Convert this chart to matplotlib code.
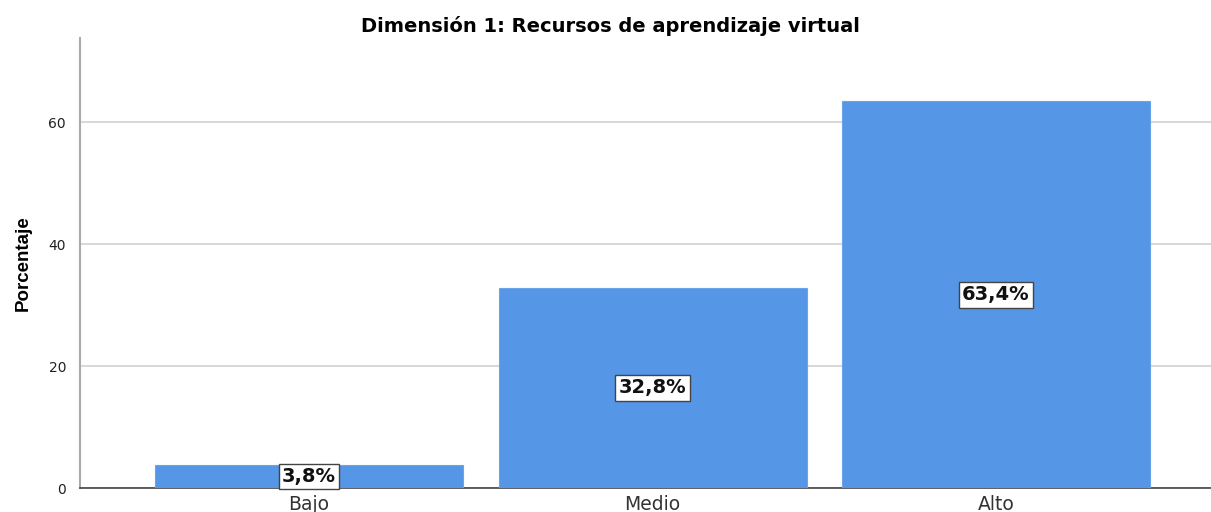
import matplotlib.pyplot as plt
import numpy as np

categories = ["Bajo", "Medio", "Alto"]
percentages = [3.8, 32.8, 63.4]
labels = ["3,8%", "32,8%", "63,4%"]
y_ticks = [0, 20, 40, 60]

plt.rcParams["font.family"] = ["DejaVu Sans"]

fig = plt.figure(figsize=(12.11, 5.12), dpi=100)
ax = fig.add_axes([80 / 1211, 1 - 488 / 512, 1 - 80 / 1211, 450 / 512])

x = np.arange(len(categories))
ax.bar(x, percentages, width=0.897, color="#5596e6", edgecolor="#6aa5ec",
       linewidth=0.8, zorder=3)

for xi, p, lab in zip(x, percentages, labels):
    ax.text(xi, p / 2, lab, ha="center", va="center", fontsize=14,
            fontweight="bold", color="#111111", zorder=5,
            bbox=dict(boxstyle="square,pad=0.17", facecolor="white",
                      edgecolor="#444444", linewidth=1.0))

ax.set_xlim(-0.667, 2.626)
ax.set_ylim(0, 73.8)
ax.set_yticks(y_ticks)
ax.set_yticklabels([str(t) for t in y_ticks], fontsize=10, color="#222222")
ax.set_xticks(x)
ax.set_xticklabels(categories, fontsize=13.5, color="#333333")
ax.tick_params(axis="both", length=0)
ax.tick_params(axis="x", pad=5)
ax.tick_params(axis="y", pad=10)

ax.grid(axis="y", color="#d4d4d4", linewidth=1.3, zorder=0)
ax.spines["top"].set_visible(False)
ax.spines["right"].set_visible(False)
ax.spines["left"].set_color("#aaaaaa")
ax.spines["left"].set_linewidth(1.5)
ax.spines["bottom"].set_color("#444444")
ax.spines["bottom"].set_linewidth(1.2)

ax.set_ylabel("Porcentaje", fontsize=13.5, fontweight="bold",
              family=["Liberation Sans Narrow", "Liberation Sans", "DejaVu Sans"],
              labelpad=12)
fig.text(610 / 1211, 1 - 26 / 512, "Dimensión 1: Recursos de aprendizaje virtual",
         ha="center", va="center", fontsize=14, fontweight="bold")

fig.savefig("out.png", dpi=100)
